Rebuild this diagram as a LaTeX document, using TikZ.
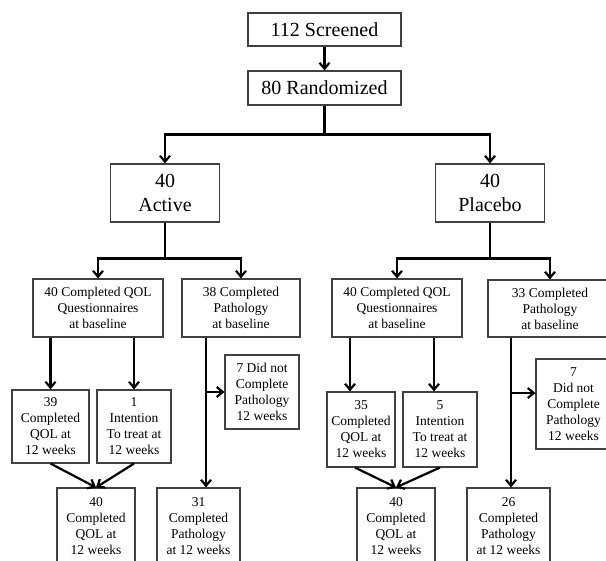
\documentclass[tikz,border=0pt]{standalone}
\usepackage{fontspec}
\setmainfont{Liberation Serif}
\usetikzlibrary{arrows.meta}
\tikzset{
    box/.style={draw=black!75, line width=1.1pt, align=center, inner sep=0pt},
    bigbox/.style={box, font=\fontsize{20}{24}\selectfont},
    smallbox/.style={box, font=\fontsize{13.5}{16}\selectfont},
    arr/.style={line width=2.2pt, -{Straight Barb[length=6pt,width=10pt]}},
}
\begin{document}
\begin{tikzpicture}[x=1pt,y=-1pt]
        \useasboundingbox (0,0) rectangle (606,561);
        \clip (0,0) rectangle (606,561);

        % screening
        \node[bigbox, minimum width=153pt, minimum height=33pt] (scr) at (324.5,29.5) {112 Screened};
        \node[bigbox, minimum width=153pt, minimum height=34pt] (rand) at (324.5,88) {80 Randomized};
        \draw[arr] (scr) -- (rand);

        % arms
        \node[bigbox, minimum width=109pt, minimum height=58pt] (act) at (165,193) {40\\Active};
        \node[bigbox, minimum width=109pt, minimum height=58pt] (plc) at (490,193) {40\\Placebo};
        \draw[arr] (rand.south) -- ++(0,29) -| (act);
        \draw[arr] (rand.south) -- ++(0,29) -| (plc);

        % baseline
        \node[smallbox, minimum width=130pt, minimum height=58pt] (qolA) at (98,308) {40 Completed QOL\\Questionnaires\\at baseline};
        \node[smallbox, minimum width=118pt, minimum height=58pt] (patA) at (241,308) {38 Completed\\Pathology\\at baseline};
        \node[smallbox, minimum width=130pt, minimum height=58pt] (qolP) at (397,308) {40 Completed QOL\\Questionnaires\\at baseline};
        \node[smallbox, minimum width=124pt, minimum height=57pt] (patP) at (550,308.5) {33 Completed\\Pathology\\at baseline};
        \draw[arr] (act.south) -- ++(0,36) -| (qolA);
        \draw[arr] (act.south) -- ++(0,36) -| (patA);
        \draw[arr] (plc.south) -- ++(0,36) -| (qolP);
        \draw[arr] (plc.south) -- ++(0,36) -| (patP);

        % 12 weeks, active
        \node[smallbox, minimum width=77pt, minimum height=73pt] (a39) at (50.5,426.5) {39\\Completed\\QOL at\\12 weeks};
        \node[smallbox, minimum width=74pt, minimum height=73pt] (a1) at (134,426.5) {1\\Intention\\To treat at\\12 weeks};
        \node[smallbox, minimum width=74pt, minimum height=74pt] (a7) at (262,392) {7 Did not\\Complete\\Pathology\\12 weeks};
        \node[smallbox, minimum width=78pt, minimum height=76pt] (a40) at (96,526) {40\\Completed\\QOL at\\12 weeks};
        \node[smallbox, minimum width=83pt, minimum height=76pt] (a31) at (198.5,526) {31\\Completed\\Pathology\\at 12 weeks};
        \draw[arr] (qolA.south -| a39) -- (a39);
        \draw[arr] (qolA.south -| a1) -- (a1);
        \draw[arr] (a39.south) -- (a40.north);
        \draw[arr] (a1.south) -- (a40.north);
        \draw[arr] ([xshift=-35pt]patA.south) coordinate (pA) -- (pA |- a31.north);
        \draw[arr] (pA |- a7.west) -- (a7.west);

        % 12 weeks, placebo
        \node[smallbox, minimum width=68pt, minimum height=75pt] (p35) at (361,429.5) {35\\Completed\\QOL at\\12 weeks};
        \node[smallbox, minimum width=74pt, minimum height=75pt] (p5) at (440,429.5) {5\\Intention\\To treat at\\12 weeks};
        \node[smallbox, minimum width=75pt, minimum height=90pt] (p7) at (573.5,404) {7\\Did not\\Complete\\Pathology\\12 weeks};
        \node[smallbox, minimum width=78pt, minimum height=76pt] (p40) at (396,526) {40\\Completed\\QOL at\\12 weeks};
        \node[smallbox, minimum width=83pt, minimum height=76pt] (p26) at (508.5,526) {26\\Completed\\Pathology\\at 12 weeks};
        \draw[arr] ([xshift=-11pt]qolP.south -| p35) -- ([xshift=-11pt]p35.north);
        \draw[arr] ([xshift=-6pt]qolP.south -| p5) -- ([xshift=-6pt]p5.north);
        \draw[arr] ([xshift=-6pt]p35.south) -- (p40.north);
        \draw[arr] (p5.south) -- (p40.north);
        \draw[arr] ([xshift=-39pt]patP.south) coordinate (pP) -- (pP |- p26.north);
        \draw[arr] ([yshift=11pt]pP |- p7.west) -- ([yshift=11pt]p7.west);
\end{tikzpicture}
\end{document}
